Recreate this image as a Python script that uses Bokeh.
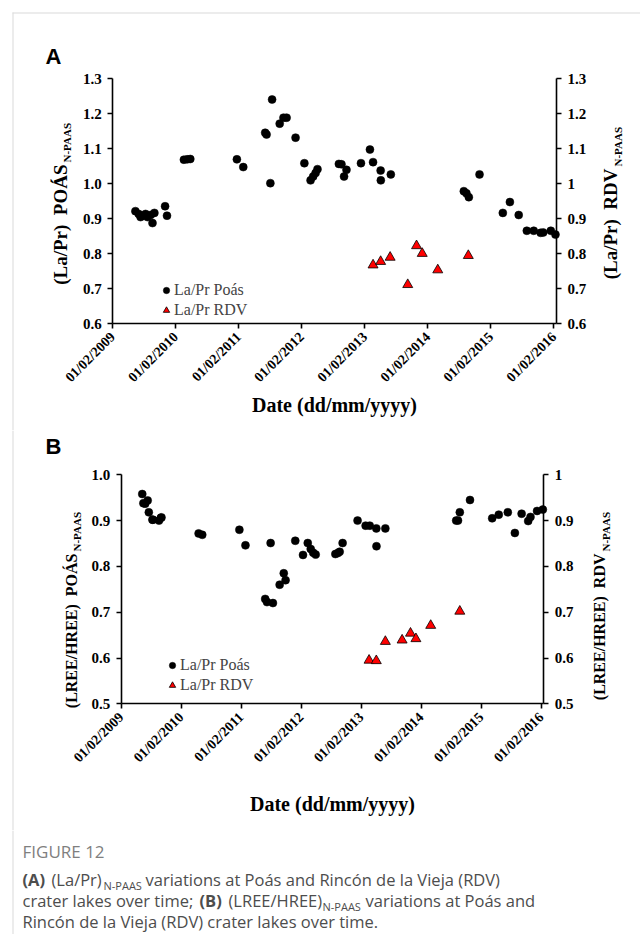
import math
import pandas as pd
from bokeh.plotting import figure
from bokeh.models import (Range1d, LinearAxis, DatetimeAxis, FixedTicker, DatetimeTickFormatter,
                          Label, Legend, LegendItem, ColumnDataSource, BoxAnnotation,
                          PrintfTickFormatter, CustomJSTickFormatter)
from bokeh.layouts import column
from bokeh.embed import file_html
from bokeh.resources import INLINE

# ---------------- data ----------------
poas_a_dates = ["2009-06-12", "2009-07-01", "2009-07-12", "2009-07-23", "2009-08-10",
                "2009-08-21", "2009-09-08", "2009-09-19", "2009-09-30", "2009-12-01",
                "2009-12-12", "2010-03-20", "2010-04-08", "2010-04-26", "2011-01-21",
                "2011-02-27", "2011-07-04", "2011-07-12", "2011-08-03", "2011-08-13",
                "2011-09-26", "2011-10-18", "2011-11-05", "2011-12-27", "2012-02-16",
                "2012-03-23", "2012-04-07", "2012-04-21", "2012-05-02", "2012-09-03",
                "2012-09-18", "2012-10-03", "2012-10-17", "2013-01-09", "2013-03-02",
                "2013-03-20", "2013-05-03", "2013-05-04", "2013-07-01", "2014-08-28",
                "2014-09-12", "2014-09-26", "2014-11-27", "2015-04-11", "2015-05-22",
                "2015-07-12", "2015-08-28", "2015-10-07", "2015-11-16", "2015-12-01",
                "2016-01-14", "2016-02-10"]
poas_a_lapr = [0.921, 0.913, 0.904, 0.908, 0.913, 0.904, 0.910, 0.887, 0.916, 0.935,
               0.908, 1.068, 1.069, 1.070, 1.069, 1.047, 1.145, 1.140, 1.001, 1.240,
               1.171, 1.188, 1.188, 1.131, 1.058, 1.009, 1.020, 1.030, 1.041, 1.056,
               1.055, 1.020, 1.039, 1.058, 1.097, 1.061, 1.037, 1.009, 1.026, 0.978,
               0.972, 0.961, 1.026, 0.916, 0.947, 0.910, 0.865, 0.865, 0.859, 0.860,
               0.865, 0.854]

rdv_dates = ["2013-03-20", "2013-05-03", "2013-06-27", "2013-10-07", "2013-11-27",
             "2013-12-30", "2014-03-30", "2014-09-23"]
rdv_a_lapr = [0.767, 0.777, 0.789, 0.711, 0.822, 0.800, 0.753, 0.794]
rdv_b_lree = [0.595, 0.594, 0.636, 0.639, 0.654, 0.642, 0.671, 0.702]

poas_b_dates = ["2009-06-09", "2009-06-16", "2009-06-27", "2009-07-12", "2009-07-19",
                "2009-08-10", "2009-08-13", "2009-09-19", "2009-09-30", "2009-10-04",
                "2010-05-18", "2010-06-09", "2011-01-21", "2011-02-27", "2011-06-27",
                "2011-07-08", "2011-07-30", "2011-08-13", "2011-09-23", "2011-10-18",
                "2011-10-29", "2011-12-27", "2012-02-12", "2012-03-12", "2012-03-30",
                "2012-04-14", "2012-04-29", "2012-08-27", "2012-09-11", "2012-09-22",
                "2012-10-10", "2013-01-09", "2013-02-27", "2013-03-24", "2013-05-03",
                "2013-05-04", "2013-06-27", "2014-09-01", "2014-09-12", "2014-09-23",
                "2014-11-24", "2015-04-08", "2015-05-18", "2015-07-12", "2015-08-24",
                "2015-10-04", "2015-11-13", "2015-11-27", "2016-01-06", "2016-02-10"]
poas_b_lree = [0.958, 0.938, 0.937, 0.944, 0.918, 0.902, 0.902, 0.900, 0.906, 0.907,
               0.872, 0.869, 0.880, 0.846, 0.729, 0.722, 0.851, 0.720, 0.760, 0.785,
               0.770, 0.856, 0.825, 0.851, 0.838, 0.830, 0.826, 0.827, 0.829, 0.832,
               0.851, 0.900, 0.889, 0.889, 0.883, 0.844, 0.883, 0.900, 0.900, 0.918,
               0.945, 0.905, 0.913, 0.918, 0.873, 0.915, 0.899, 0.908, 0.921, 0.924]

x_tick_dates = ["2009-02-01", "2010-02-01", "2011-02-01", "2012-02-01",
                "2013-02-01", "2014-02-01", "2015-02-01", "2016-02-01"]
x_start, x_end = "2009-02-01", "2016-02-16"
y_ticks_a = [0.6, 0.7, 0.8, 0.9, 1.0, 1.1, 1.2, 1.3]
y_ticks_b = [0.5, 0.6, 0.7, 0.8, 0.9, 1.0]

series_poas = "La/Pr Poás"
series_rdv = "La/Pr RDV"

# ---------------- helpers ----------------
SERIF = "Liberation Serif"
W = 640
VERT = math.pi / 2


def ms(d):
    return pd.Timestamp(d).value / 1e6


def style_axis(ax, size):
    ax.axis_line_color = "black"
    ax.axis_line_width = 1.6
    ax.major_tick_line_color = "black"
    ax.major_tick_line_width = 1.6
    ax.major_tick_out = 5
    ax.major_tick_in = 0
    ax.minor_tick_line_color = None
    ax.major_label_text_font = SERIF
    ax.major_label_text_font_style = "bold"
    ax.major_label_text_font_size = size
    ax.major_label_text_color = "black"


def lab(p, x, y, text, fs, font=SERIF, style="bold", angle=0.0,
        align="left", color="black"):
    # (x, y) is the intended baseline point; compensate the renderer's baseline offset
    shift = 0.38 * fs
    if angle == 0.0:
        y -= shift
    else:
        x -= shift
    p.add_layout(Label(x=x, y=y, x_units="canvas", y_units="canvas", text=text,
                       text_font=font, text_font_size=f"{fs}px", text_font_style=style,
                       angle=angle, text_align=align, text_baseline="alphabetic",
                       text_color=color))


def rule_box(p, left, right, top, bottom):
    p.add_layout(BoxAnnotation(left=left, right=right, top=top, bottom=bottom,
                               left_units="canvas", right_units="canvas",
                               top_units="canvas", bottom_units="canvas",
                               fill_color="#d9d9d9", fill_alpha=1.0, line_color=None,
                               level="underlay"))


def make_panel(height, frame, y_lo, y_hi, yticks, poas_d, poas_v, rdv_v, leg_loc, right_fmt):
    # frame = (left, right, top, bottom) of the plotting area in canvas pixels
    fl, fr, ft, fb = frame
    t0, t1 = ms(x_start), ms(x_end)
    mpp = (t1 - t0) / (fr - fl)
    upp = (y_hi - y_lo) / (fb - ft)
    xr = Range1d(t0 - fl * mpp, t1 + (W - fr) * mpp)
    yr_ = Range1d(y_lo - (height - fb) * upp, y_hi + ft * upp)
    p = figure(width=W, height=height, x_range=xr, y_range=yr_,
               x_axis_location=None, y_axis_location=None,
               output_backend="svg", toolbar_location=None, min_border=0)
    p.outline_line_color = None
    p.grid.visible = False
    p.background_fill_color = "white"
    p.border_fill_color = "white"

    xax = DatetimeAxis(fixed_location=y_lo, bounds=(t0, t1))
    style_axis(xax, "14px")
    xax.ticker = FixedTicker(ticks=[ms(d) for d in x_tick_dates])
    f = "%d/%m/%Y"
    xax.formatter = DatetimeTickFormatter(milliseconds=f, seconds=f, minsec=f, minutes=f,
                                          hourmin=f, hours=f, days=f, months=f, years=f)
    xax.major_label_orientation = math.pi / 4
    xax.major_label_standoff = 6
    p.add_layout(xax, "below")

    yl = LinearAxis(fixed_location=t0, bounds=(y_lo, y_hi), ticker=FixedTicker(ticks=yticks))
    style_axis(yl, "15px")
    yl.formatter = PrintfTickFormatter(format="%.1f")
    yl.major_label_standoff = 6
    p.add_layout(yl, "left")

    yrax = LinearAxis(fixed_location=t1, bounds=(y_lo, y_hi), ticker=FixedTicker(ticks=yticks))
    style_axis(yrax, "15px")
    yrax.formatter = right_fmt
    yrax.major_label_standoff = 6
    p.add_layout(yrax, "right")

    src_p = ColumnDataSource(dict(date=[ms(d) for d in poas_d], val=poas_v))
    src_r = ColumnDataSource(dict(date=[ms(d) for d in rdv_dates], val=rdv_v))
    rc = p.scatter(x="date", y="val", source=src_p, marker="circle", size=8,
                   fill_color="black", line_color="black", line_width=0.5)
    rt = p.scatter(x="date", y="val", source=src_r, marker="triangle", size=10,
                   fill_color="#ff0000", line_color="black", line_width=0.8)
    leg = Legend(items=[LegendItem(label=series_poas, renderers=[rc]),
                        LegendItem(label=series_rdv, renderers=[rt])],
                 location=leg_loc, border_line_color=None, background_fill_alpha=0,
                 padding=0, margin=0, spacing=0, glyph_width=16, glyph_height=20,
                 label_height=20, label_standoff=0, label_text_font=SERIF,
                 label_text_font_size="16px")
    p.add_layout(leg)
    return p


right_fmt_code = "const s = tick.toFixed(1); return s === '1.0' ? '1' : s;"

# ---------------- panel A (page y 0..430) ----------------
HA = 430
pA = make_panel(HA, (112.3, 556, 78, 323), 0.6, 1.3, y_ticks_a,
                poas_a_dates, poas_a_lapr, rdv_a_lapr, (158, 110),
                CustomJSTickFormatter(code=right_fmt_code))
rule_box(pA, 12, 13, 12, HA)
rule_box(pA, 12, W, 12, 13)
lab(pA, 45, 64, "A", 22, font="Liberation Sans")
lab(pA, 67, 164, "(La/Pr)\u00a0\u00a0POÁS", 19, angle=VERT, align="right")
lab(pA, 71, 162, "N-PAAS", 11, angle=VERT, align="left")
lab(pA, 617, 168, "(La/Pr)\u00a0\u00a0RDV", 19, angle=VERT, align="right")
lab(pA, 622, 166, "N-PAAS", 11, angle=VERT, align="left")
lab(pA, 334, 412, "Date (dd/mm/yyyy)", 20, align="center")

# ---------------- panel B (page y 430..830) ----------------
HB = 400
pB = make_panel(HB, (120.7, 543.3, 44.3, 273.3), 0.5, 1.0, y_ticks_b,
                poas_b_dates, poas_b_lree, rdv_b_lree, (164, 135),
                CustomJSTickFormatter(code=right_fmt_code))
oy = 430
rule_box(pB, 12, 13, 0, HB)
lab(pB, 45, 454 - oy, "B", 22, font="Liberation Sans")
lab(pB, 77, 553 - oy, "(LREE/HREE)\u00a0\u00a0POÁS", 16, angle=VERT, align="right")
lab(pB, 81, 551 - oy, "N-PAAS", 11, angle=VERT, align="left")
lab(pB, 605, 553 - oy, "(LREE/HREE)\u00a0\u00a0RDV", 16, angle=VERT, align="right")
lab(pB, 610, 551 - oy, "N-PAAS", 11, angle=VERT, align="left")
lab(pB, 332, 811 - oy, "Date (dd/mm/yyyy)", 20, align="center")

# ---------------- caption (page y 830..934) ----------------
HC = 104
pC = figure(width=W, height=HC, output_backend="svg", toolbar_location=None,
            x_range=Range1d(0, W), y_range=Range1d(0, HC),
            x_axis_location=None, y_axis_location=None, min_border=0)
pC.grid.visible = False
pC.outline_line_color = None
oy = 830
rule_box(pC, 12, 13, 0, HC)
CAP = "Open Sans"
GRAY = "#4d4d4d"
FS = 16.5
SUB = 11
lab(pC, 22, 857 - oy, "FIGURE 12", 17, font=CAP, style="normal", color="#7f7f7f")
lab(pC, 22, 885 - oy, "(A)", FS, font=CAP, style="bold", color=GRAY)
lab(pC, 51, 885 - oy, "(La/Pr)", FS, font=CAP, style="normal", color=GRAY)
lab(pC, 103, 889 - oy, "N-PAAS", SUB, font=CAP, style="normal", color=GRAY)
lab(pC, 145, 885 - oy, "variations at Poás and Rincón de la Vieja (RDV)", FS,
    font=CAP, style="normal", color=GRAY)
lab(pC, 22, 906 - oy, "crater lakes over time;", FS, font=CAP, style="normal", color=GRAY)
lab(pC, 199, 906 - oy, "(B)", FS, font=CAP, style="bold", color=GRAY)
lab(pC, 228, 906 - oy, "(LREE/HREE)", FS, font=CAP, style="normal", color=GRAY)
lab(pC, 322, 910 - oy, "N-PAAS", SUB, font=CAP, style="normal", color=GRAY)
lab(pC, 365, 906 - oy, "variations at Poás and", FS, font=CAP, style="normal", color=GRAY)
lab(pC, 22, 927 - oy, "Rincón de la Vieja (RDV) crater lakes over time.", FS,
    font=CAP, style="normal", color=GRAY)

layout = column(pA, pB, pC, spacing=0)

open("out.html", "w").write(file_html(layout, INLINE))
